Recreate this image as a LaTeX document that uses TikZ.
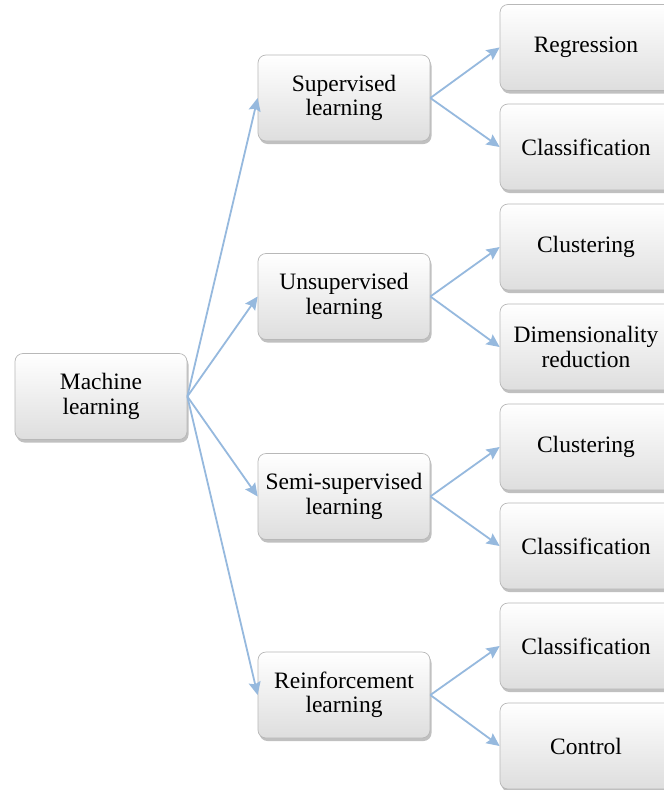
\documentclass[tikz,border=0pt]{standalone}
\usepackage{fontspec}
\setmainfont{Liberation Serif}
\newfontfamily\boxfont{Liberation Serif}
\usetikzlibrary{shadows,arrows.meta}
\definecolor{arrowblue}{RGB}{150,185,222}
\tikzset{
  box/.style={draw=black!28, line width=0.7pt, rounded corners=8pt,
    minimum width=172pt, minimum height=86pt, inner sep=2pt,
    top color=white, middle color=white!96!black, bottom color=black!13,
    drop shadow={shadow xshift=1.5pt, shadow yshift=-3pt, opacity=0.35, fill=black!70},
    align=center, font=\boxfont\fontsize{23.5}{24.5}\selectfont},
  conn/.style={draw=arrowblue, line width=1.8pt, -{Stealth[length=13pt,width=12pt,inset=2pt]}}
}
\begin{document}
\begin{tikzpicture}[x=1pt,y=-1pt]
\useasboundingbox (0,0) rectangle (664,790);
\clip (0,0) rectangle (664,790);
\fill[white] (0,0) rectangle (664,790);
% left
\node[box] (ml) at (101,396.5) {Machine\\learning};
% middle
\node[box] (sup) at (344,98) {Supervised\\learning};
\node[box] (uns) at (344,296.5) {Unsupervised\\learning};
\node[box] (semi) at (344,496.5) {Semi-supervised\\learning};
\node[box] (rein) at (344,695) {Reinforcement\\learning};
% right
\node[box] (r1) at (586,47.5) {Regression};
\node[box] (r2) at (586,147) {Classification};
\node[box] (r3) at (586,247) {Clustering};
\node[box] (r4) at (586,347) {Dimensionality\\reduction};
\node[box] (r5) at (586,447) {Clustering};
\node[box] (r6) at (586,546) {Classification};
\node[box] (r7) at (586,646) {Classification};
\node[box] (r8) at (586,746) {Control};
% connectors
\foreach \t in {sup,uns,semi,rein} \draw[conn] (ml.east) -- (\t.west);
\draw[conn] (sup.east) -- (r1.west);
\draw[conn] (sup.east) -- (r2.west);
\draw[conn] (uns.east) -- (r3.west);
\draw[conn] (uns.east) -- (r4.west);
\draw[conn] (semi.east) -- (r5.west);
\draw[conn] (semi.east) -- (r6.west);
\draw[conn] (rein.east) -- (r7.west);
\draw[conn] (rein.east) -- (r8.west);
\end{tikzpicture}
\end{document}
